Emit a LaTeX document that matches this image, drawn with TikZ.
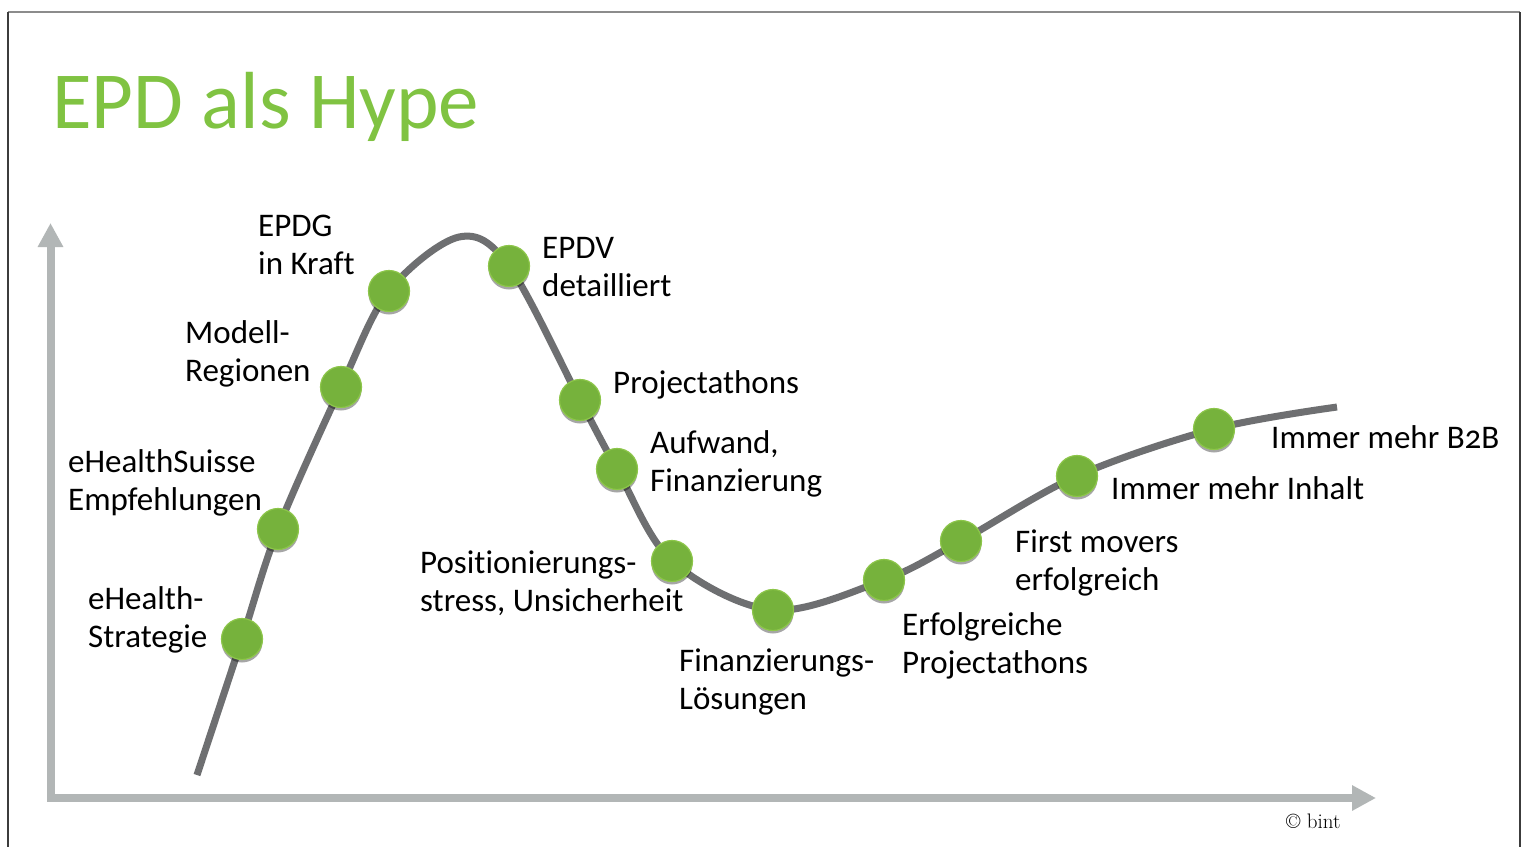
\documentclass[tikz,border=0pt]{standalone}
\usepackage{fontspec}
\setmainfont{Carlito}[Ligatures={NoCommon,NoRare,NoContextual}]
\usetikzlibrary{arrows.meta,shadows}
\definecolor{titlegreen}{RGB}{128,195,66}
\definecolor{dotgreen}{RGB}{118,178,60}
\definecolor{dotrim}{RGB}{141,198,74}
\definecolor{axisgray}{RGB}{178,182,182}
\definecolor{curvegray}{RGB}{110,111,113}
\definecolor{framedark}{RGB}{60,60,60}
\definecolor{frametop}{RGB}{140,140,140}
\tikzset{
  axisline/.style={draw=axisgray, line width=8pt, -{Triangle[length=24pt,width=24pt]}},
  hypecurve/.style={draw=curvegray, line width=7pt},
  dot/.style={circle, minimum size=41pt, inner sep=0pt, fill=dotgreen, draw=dotrim, line width=1.2pt,
    drop shadow={shadow xshift=0pt, shadow yshift=-3pt, opacity=0.35, fill=black}},
  lbl/.style={anchor=base west, inner sep=0pt, font=\fontsize{33}{38}\selectfont},
}
\newcommand{\twolines}[2]{\begin{tabular}[t]{@{}l@{}}#1\\#2\end{tabular}}
\begin{document}
\begin{tikzpicture}[x=1pt,y=-1pt]
\useasboundingbox (0,0) rectangle (1524,847);
\fill[white] (0,0) rectangle (1524,847);
% frame
\draw[frametop, line width=1.5pt] (8,12) -- (1520,12);
\draw[framedark, line width=1.3pt] (8,12) -- (8,847);
\draw[framedark, line width=1.3pt] (1520,12) -- (1520,847);
% title
\node[anchor=base west, inner sep=0pt, text=titlegreen, font=\fontsize{81}{92}\selectfont] (title) at (52,128) {EPD als Hype};
% axes
\coordinate (ybot) at (50.5,797);
\coordinate (ytip) at (50.5,223);
\coordinate (xleft) at (47,798);
\coordinate (xtip) at (1376,798);
\draw[axisline] (ybot) -- (ytip);
\draw[axisline] (xleft) -- (xtip);
% curve points
\coordinate (c0) at (197,775);
\coordinate (d1) at (242,639);
\coordinate (d2) at (278,529);
\coordinate (d3) at (341,387);
\coordinate (d4) at (389,291);
\coordinate (peak) at (459,237);
\coordinate (d5) at (509,266);
\coordinate (d6) at (580,400);
\coordinate (d7) at (617,469);
\coordinate (d8) at (672,561);
\coordinate (d9) at (773,610);
\coordinate (d10) at (884,580);
\coordinate (d11) at (961,541);
\coordinate (d12) at (1077,476);
\coordinate (d13) at (1214,429);
\coordinate (cend) at (1337,407);
\draw[hypecurve] plot[smooth, tension=0.55] coordinates {(c0) (d1) (d2) (d3) (d4) (peak) (d5) (d6) (d7) (d8) (d9) (d10) (d11) (d12) (d13) (cend)};
% dots
\foreach \p in {d1,d2,d3,d4,d5,d6,d7,d8,d9,d10,d11,d12,d13}{
  \node[dot] (n\p) at (\p) {};
}
% labels
\node[lbl] (l1) at (88,609) {\twolines{eHealth-}{Strategie}};
\node[lbl] (l2) at (68,472) {\twolines{eHealthSuisse}{Empfehlungen}};
\node[lbl] (l3) at (185,343) {\twolines{Modell-}{Regionen}};
\node[lbl] (l4) at (258,236) {\twolines{EPDG}{in Kraft}};
\node[lbl] (l5) at (542,258) {\twolines{EPDV}{detailliert}};
\node[lbl] (l6) at (613,393) {Projectathons};
\node[lbl] (l7) at (650,453) {\twolines{Aufwand,}{Finanzierung}};
\node[lbl] (l8) at (420,573) {\twolines{Positionierungs-}{stress, Unsicherheit}};
\node[lbl] (l9) at (679,671) {\twolines{Finanzierungs-}{Lösungen}};
\node[lbl] (l10) at (902,635) {\twolines{Erfolgreiche}{Projectathons}};
\node[lbl] (l11) at (1015,552) {\twolines{First movers}{erfolgreich}};
\node[lbl] (l12) at (1111,499) {Immer mehr Inhalt};
\node[lbl] (l13) at (1271,448) {Immer mehr B{\addfontfeatures{Numbers=OldStyle}2}B};
% copyright
\node[anchor=base west, inner sep=0pt, font=\fontspec{Latin Modern Roman}\fontsize{21}{24}\selectfont] (copy) at (1286,828) {\textcopyright\ bint};
\end{tikzpicture}
\end{document}
